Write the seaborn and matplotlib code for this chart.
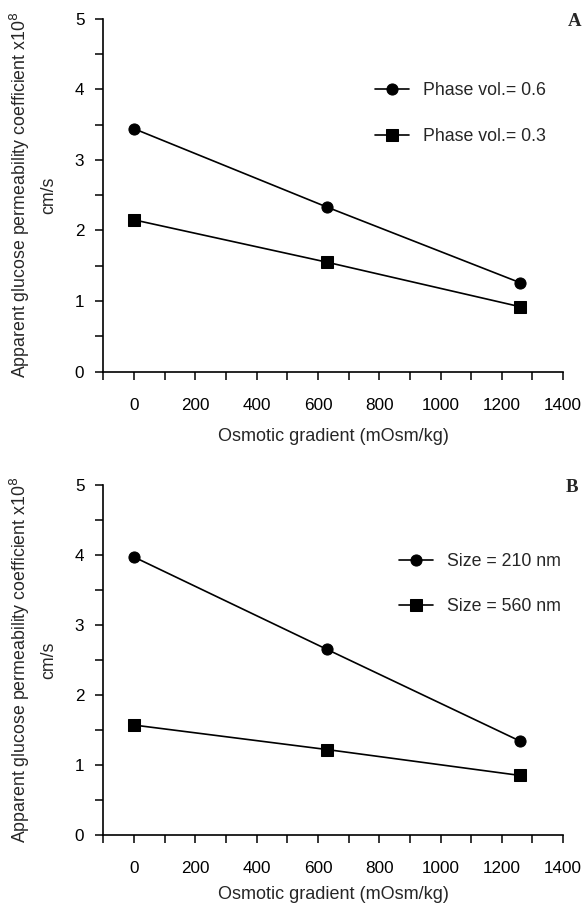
"""Glucose permeability vs osmotic gradient, two panels."""

import matplotlib

matplotlib.use("Agg")
import matplotlib.pyplot as plt
import pandas as pd
import seaborn as sns
from matplotlib.ticker import MultipleLocator

GRADIENT = [0, 630, 1260]

PHASE_LABELS = ["Phase vol.= 0.6", "Phase vol.= 0.3"]
PHASE_06 = [3.44, 2.33, 1.26]
PHASE_03 = [2.15, 1.55, 0.92]

SIZE_LABELS = ["Size = 210 nm", "Size = 560 nm"]
SIZE_210 = [3.97, 2.65, 1.34]
SIZE_560 = [1.57, 1.22, 0.85]

YLABEL = "Apparent glucose permeability coefficient x10$^{8}$\ncm/s"
XLABEL = "Osmotic gradient (mOsm/kg)"


def _frame(labels, series):
    rows = []
    for label, values in zip(labels, series):
        for x, y in zip(GRADIENT, values):
            rows.append({"gradient": x, "perm": y, "series": label})
    return pd.DataFrame(rows)


def _draw_panel(ax, labels, series, letter, letter_pos, legend_anchor, xlabelpad):
    frame = _frame(labels, series)
    sns.lineplot(
        data=frame,
        x="gradient",
        y="perm",
        style="series",
        markers={labels[0]: "o", labels[1]: "s"},
        dashes=False,
        color="black",
        linewidth=1.2,
        markersize=8,
        markeredgecolor="black",
        ax=ax,
    )
    ax.set_xlim(-100, 1400)
    ax.set_ylim(0, 5)
    ax.xaxis.set_major_locator(MultipleLocator(200))
    ax.xaxis.set_minor_locator(MultipleLocator(100))
    ax.yaxis.set_major_locator(MultipleLocator(1))
    ax.yaxis.set_minor_locator(MultipleLocator(0.5))
    ax.tick_params(which="both", direction="out", length=5.8, width=1.1, colors="black")
    ax.tick_params(axis="both", labelsize=12.3)
    ax.tick_params(axis="x", pad=13)
    ax.tick_params(axis="y", pad=8)
    sns.despine(ax=ax)
    for side in ("left", "bottom"):
        ax.spines[side].set_color("black")
        ax.spines[side].set_linewidth(1.2)
    ax.set_xlabel(XLABEL, fontsize=13, labelpad=xlabelpad)
    ax.set_ylabel(YLABEL, fontsize=12.8, linespacing=1.6)
    ax.yaxis.set_label_coords(-0.101, 0.5)
    ax.text(
        letter_pos[0], letter_pos[1], letter, transform=ax.transAxes,
        ha="center", va="center", fontsize=13.5, fontweight="bold",
        family="Liberation Serif",
    )
    handles, texts = ax.get_legend_handles_labels()
    ax.legend(
        handles, texts, loc="center left", bbox_to_anchor=legend_anchor,
        frameon=False, fontsize=12.8, handlelength=1.9, handletextpad=0.8,
        labelspacing=1.6, borderpad=0, borderaxespad=0,
    )


def main():
    sns.set_theme(style="ticks")
    plt.rcParams["font.family"] = ["Liberation Sans", "DejaVu Sans"]
    fig = plt.figure(figsize=(5.84, 9.06), dpi=100)
    ax_a = fig.add_axes([0.1772, 0.5897, 0.787, 0.3898])
    ax_b = fig.add_axes([0.1772, 0.0784, 0.787, 0.3863])
    _draw_panel(ax_a, PHASE_LABELS, [PHASE_06, PHASE_03], "A",
                (1.026, 0.993), (0.591, 0.731), 11)
    _draw_panel(ax_b, SIZE_LABELS, [SIZE_210, SIZE_560], "B",
                (1.02, 0.994), (0.643, 0.717), 7.5)
    fig.savefig("out.png", dpi=100, facecolor="white")
    plt.close(fig)


if __name__ == "__main__":
    main()
